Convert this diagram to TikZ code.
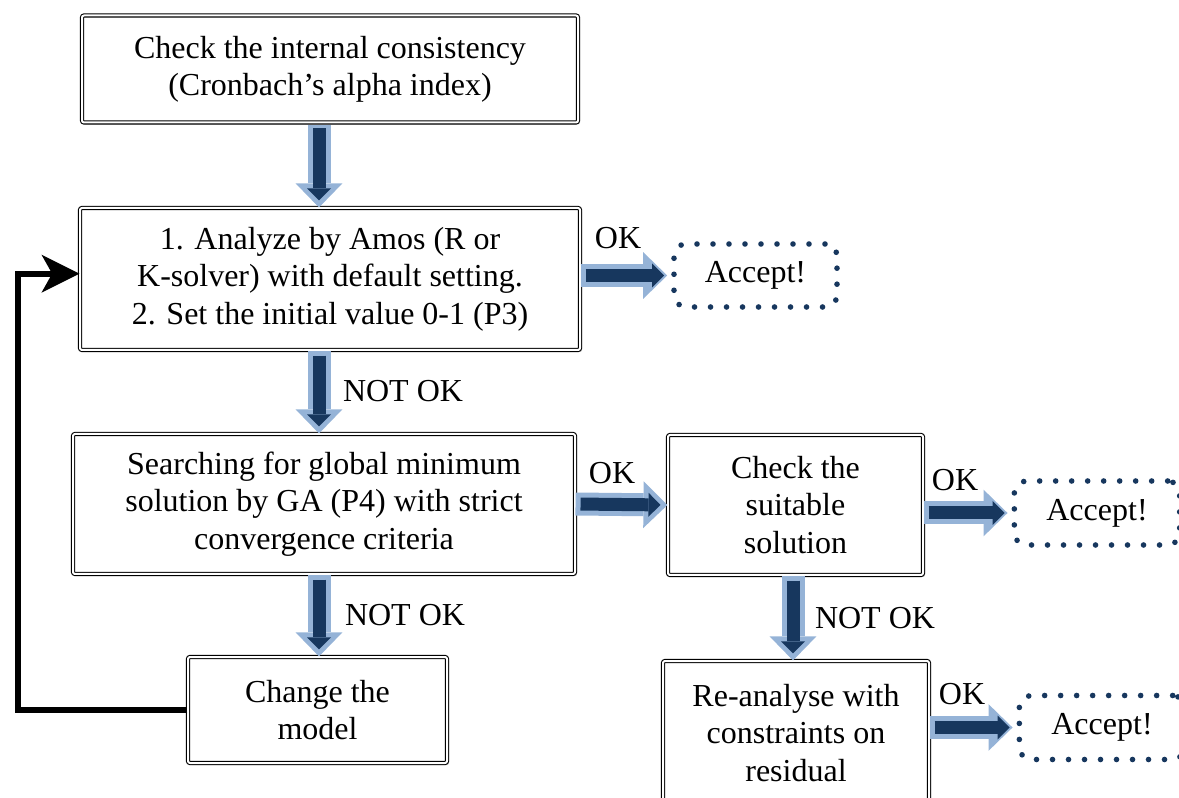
\documentclass[tikz,border=0pt]{standalone}
\usepackage{fontspec}
\setmainfont{Liberation Serif}
\usetikzlibrary{arrows.meta, shadows}
\definecolor{navy}{HTML}{17375E}
\definecolor{paleblue}{HTML}{95B3D7}

\begin{document}
\begin{tikzpicture}[
        x=0.75pt, y=-0.75pt, % one unit is one pixel of the sketch
        every node/.style={font=\fontsize{24}{28}\selectfont, align=center, inner sep=0pt},
        stepbox/.style={draw, double, double distance=1.5pt, line width=0.8pt, rounded corners=1.5pt,
          fill=white, drop shadow={opacity=0.35, shadow xshift=1.5pt, shadow yshift=-1.5pt}},
        acceptbox/.style={draw=navy, line width=4.2pt, dash pattern=on 0pt off 12pt, line cap=round,
          rounded corners=9pt, minimum width=124pt, minimum height=48pt},
        blockarrow/.style={draw=paleblue, line width=17.25pt, -{Triangle[length=18pt, width=35pt, line width=0pt]},
          postaction={draw=navy, line width=9.75pt, shorten <=3.75pt, shorten >=5.25pt,
            -{Triangle[length=9pt, width=18pt, line width=0pt]}}},
        loopback/.style={draw, line width=4.5pt, -{Stealth[length=28.5pt, width=28.5pt, inset=8pt, line width=0pt]}}
      ]
      \useasboundingbox (0,0) rectangle (1179,798);

      % Nodes
      \node[stepbox, minimum width=372pt, minimum height=80.25pt] (check) at (330,69)
        {Check the internal consistency\\(Cronbach’s alpha index)};
      \node[stepbox, minimum width=375pt, minimum height=106.5pt] (analyze) at (330,279)
        {1. Analyze by Amos (R or\\K-solver) with default setting.\\2. Set the initial value 0-1 (P3)};
      \node[stepbox, minimum width=376.5pt, minimum height=105pt] (search) at (324,504)
        {Searching for global minimum\\solution by GA (P4) with strict\\convergence criteria};
      \node[stepbox, minimum width=191.25pt, minimum height=105pt] (suitable) at (795.5,505)
        {Check the\\suitable\\solution};
      \node[stepbox, minimum width=194.25pt, minimum height=79.5pt] (change) at (317.5,710)
        {Change the\\model};
      \node[stepbox, minimum width=199.5pt, minimum height=108pt] (reanalyse) at (796,733)
        {Re-analyse with\\constraints on\\residual};

      \node[acceptbox, minimum width=122.25pt, minimum height=47.25pt] (accept1) at (755.5,275.5) {Accept!};
      \node[acceptbox] (accept2) at (1097,513) {Accept!};
      \node[acceptbox] (accept3) at (1102,727.5) {Accept!};

      \coordinate (spine) at (319,0);
      \coordinate (spinetwo) at (793,0);
      \coordinate (loop) at (18,0);

      % Arrows
      \draw[blockarrow, shorten <=1.5pt] (check.south -| spine) -- (analyze.north -| spine);
      \draw[blockarrow] (analyze.south -| spine) -- (search.north -| spine);
      \draw[blockarrow] (search.south -| spine) -- (change.north -| spine);
      \draw[blockarrow] (suitable.south -| spinetwo) -- (reanalyse.north -| spinetwo);
      \draw[blockarrow, shorten >=3pt] (analyze.east |- accept1.west) -- (accept1.west);
      \draw[blockarrow] (search.east) -- (suitable.west);
      \draw[blockarrow, shorten >=3pt] (suitable.east |- accept2.west) -- (accept2.west);
      \draw[blockarrow, shorten >=3pt] (reanalyse.east |- accept3.west) -- (accept3.west);
      \draw[loopback] (change.west) -- (change.west -| loop) |- ([yshift=4pt]analyze.west);

      % Labels
      \node (okone) at (618,238) {OK};
      \node (notokone) at (403,391) {NOT OK};
      \node (oktwo) at (612,473) {OK};
      \node (okthree) at (955,480) {OK};
      \node (notoktwo) at (405,615) {NOT OK};
      \node (notokthree) at (875,618) {NOT OK};
      \node (okfour) at (962,694) {OK};
    \end{tikzpicture}
\end{document}
